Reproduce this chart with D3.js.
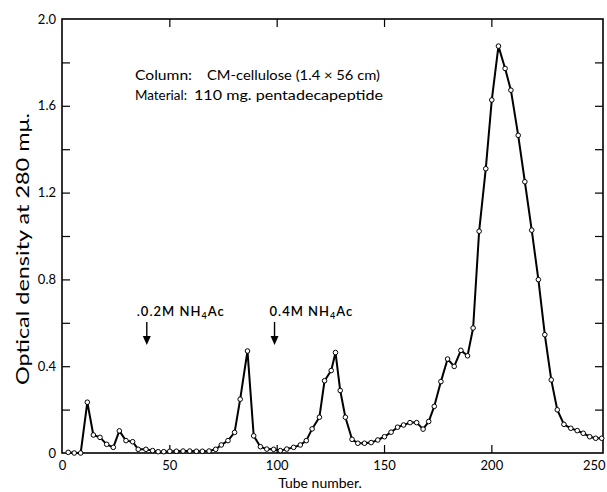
<!DOCTYPE html>
<html>
<head>
<meta charset="utf-8">
<script src="https://cdn.jsdelivr.net/npm/d3@7"></script>
<style>
    body { margin: 0; background: #fff; }
    svg { display: block; font-family: Lato, "DejaVu Sans", sans-serif; }
</style>
</head>
<body>
<svg id="chart" width="607" height="492"></svg>
<script>
// tube number / optical density
const tubes = [
    2.9, 5.7, 8.7, 11.8, 14.6, 17.7, 20.8, 23.9, 26.7, 29.8,
    32.9, 35.5, 39.1, 42.2, 44.8, 47.4, 50.2, 53.3, 56.4, 59.5,
    62.6, 65.4, 68.5, 71.6, 74.2, 77.3, 80.4, 83.0, 86.4, 89.3,
    92.4, 95.4, 98.6, 101.7, 104.7, 107.9, 111.0, 113.8, 116.5, 119.9,
    122.3, 125.4, 127.4, 129.6, 132.0, 135.1, 137.8, 140.9, 144.0, 147.1,
    150.2, 153.3, 156.3, 159.1, 162.1, 165.2, 168.2, 170.8, 173.4, 176.5,
    179.6, 182.7, 185.8, 188.9, 191.5, 194.3, 197.4, 200.2, 203.3, 206.4,
    209.1, 212.5, 215.6, 218.8, 221.9, 224.9, 227.9, 230.7, 233.8, 237.0,
    240.0, 242.8, 245.8, 248.6, 251.4
];
const density = [
    0.003, 0.0, 0.0, 0.234, 0.083, 0.072, 0.040, 0.026, 0.102, 0.057,
    0.052, 0.017, 0.017, 0.011, 0.006, 0.006, 0.008, 0.008, 0.009, 0.009,
    0.008, 0.008, 0.009, 0.017, 0.037, 0.057, 0.095, 0.248, 0.470, 0.079,
    0.029, 0.018, 0.017, 0.011, 0.018, 0.026, 0.037, 0.057, 0.111, 0.165,
    0.333, 0.380, 0.463, 0.288, 0.165, 0.063, 0.045, 0.045, 0.048, 0.060,
    0.075, 0.096, 0.119, 0.129, 0.140, 0.140, 0.110, 0.145, 0.215, 0.329,
    0.433, 0.399, 0.473, 0.448, 0.576, 1.022, 1.310, 1.627, 1.875, 1.772,
    1.672, 1.464, 1.250, 1.027, 0.799, 0.545, 0.337, 0.199, 0.132, 0.114,
    0.103, 0.091, 0.075, 0.068, 0.068
];

const yMinorTicks = [0.2, 0.4, 0.6, 0.8, 1.0, 1.2, 1.4, 1.6, 1.8];
const yLabelValues = [0, 0.4, 0.8, 1.2, 1.6, 2.0];
const yLabelText = ["0", "0.4", "0.8", "1.2", "1.6", "2.0"];
const xLabelValues = [0, 50, 100, 150, 200, 250];
const xInnerTicks = [50, 100, 150, 200];

const bufferTubes = [39.5, 99];
const bufferLabels = [".0.2M NH", "0.4M NH"];

const infoKeys = ["Column:", "Material:"];
const infoValues = ["CM-cellulose (1.4 × 56 cm)", "110 mg. pentadecapeptide"];

const margin = { top: 19, right: 4, bottom: 39, left: 62 };
const width = 607, height = 492;

const svg = d3.select("#chart");

const x = d3.scaleLinear().domain([0, 252]).range([margin.left, width - margin.right]);
const y = d3.scaleLinear().domain([0, 2]).range([height - margin.bottom, margin.top]);

const data = tubes.map((t, i) => ({ t, v: density[i] }));

// inner ticks on all four sides
svg.append("g")
    .attr("transform", `translate(${x.range()[0]},0)`)
    .call(d3.axisLeft(y).tickValues(yMinorTicks).tickSize(-8).tickFormat(""))
    .call(g => g.select(".domain").remove());

svg.append("g")
    .attr("transform", `translate(${x.range()[1]},0)`)
    .call(d3.axisRight(y).tickValues(yMinorTicks).tickSize(-8).tickFormat(""))
    .call(g => g.select(".domain").remove());

svg.append("g")
    .attr("transform", `translate(0,${y.range()[1]})`)
    .call(d3.axisTop(x).tickValues(xInnerTicks).tickSize(-8).tickFormat(""))
    .call(g => g.select(".domain").remove());

svg.append("g")
    .attr("transform", `translate(0,${y.range()[0]})`)
    .call(d3.axisBottom(x).tickValues(xInnerTicks).tickSize(-8).tickFormat(""))
    .call(g => g.select(".domain").remove());

svg.selectAll(".tick line").attr("stroke", "#000").attr("stroke-width", 1.2);

// tick labels
svg.append("g")
    .attr("transform", `translate(${x.range()[0]},0)`)
    .call(d3.axisLeft(y).tickValues(yLabelValues).tickSize(0).tickPadding(6)
        .tickFormat((d, i) => yLabelText[i]))
    .call(g => g.select(".domain").remove())
    .call(g => g.selectAll("text").attr("font-size", 13).attr("fill", "#000")
        .attr("font-family", "Lato, sans-serif"));

svg.append("g")
    .attr("transform", `translate(0,${y.range()[0]})`)
    .call(d3.axisBottom(x).tickValues(xLabelValues).tickSize(0).tickPadding(8)
        .tickFormat(d3.format("d")))
    .call(g => g.select(".domain").remove())
    .call(g => g.selectAll("text").attr("font-size", 13).attr("fill", "#000")
        .attr("font-family", "Lato, sans-serif")
        .attr("dx", d => d === 250 ? -5 : 0));

// frame
svg.append("rect")
    .attr("x", x.range()[0])
    .attr("y", y.range()[1])
    .attr("width", x.range()[1] - x.range()[0])
    .attr("height", y.range()[0] - y.range()[1])
    .attr("fill", "none")
    .attr("stroke", "#000")
    .attr("stroke-width", 1.6);

// profile
const line = d3.line().x(d => x(d.t)).y(d => y(d.v));

svg.append("path")
    .datum(data)
    .attr("d", line)
    .attr("fill", "none")
    .attr("stroke", "#000")
    .attr("stroke-width", 2)
    .attr("stroke-linejoin", "round");

svg.append("g")
    .selectAll("circle")
    .data(data)
    .join("circle")
    .attr("cx", d => x(d.t))
    .attr("cy", d => y(d.v))
    .attr("r", 2.3)
    .attr("fill", "#fff")
    .attr("stroke", "#000")
    .attr("stroke-width", 1);

// buffer change arrows
const arrows = svg.append("g");
bufferTubes.forEach((t, i) => {
    const ax = x(t);
    arrows.append("line")
        .attr("x1", ax).attr("x2", ax)
        .attr("y1", 322).attr("y2", 337)
        .attr("stroke", "#000").attr("stroke-width", 1.4);
    arrows.append("path")
        .attr("d", `M${ax - 4},336 L${ax + 4},336 L${ax},345 Z`)
        .attr("fill", "#000");
    const txt = arrows.append("text")
        .attr("x", ax - (i === 0 ? 10 : 5))
        .attr("y", 316)
        .attr("font-size", 13)
        .attr("letter-spacing", 1)
        .attr("font-weight", 600)
        .attr("fill", "#000");
    txt.append("tspan").text(bufferLabels[i]);
    txt.append("tspan").attr("dy", 3).attr("font-size", 9).text("4");
    txt.append("tspan").attr("dy", -3).text("Ac");
});

// column / material note
const keyLen = [57, 52];
const valX = [207, 194];
const valLen = [173, 189];
const info = svg.append("g").attr("font-size", 13.5).attr("fill", "#000");
infoKeys.forEach((k, i) => {
    info.append("text").attr("x", 135).attr("y", 80 + i * 20)
        .attr("textLength", keyLen[i]).attr("lengthAdjust", "spacingAndGlyphs").text(k);
    info.append("text").attr("x", valX[i]).attr("y", 80 + i * 20)
        .attr("textLength", valLen[i]).attr("lengthAdjust", "spacingAndGlyphs").text(infoValues[i]);
});

// axis titles
svg.append("text")
    .attr("x", 320)
    .attr("y", 488)
    .attr("text-anchor", "middle")
    .attr("font-size", 14)
    .attr("fill", "#000")
    .text("Tube number.");

svg.append("text")
    .attr("transform", "translate(29,249) rotate(-90)")
    .attr("text-anchor", "middle")
    .attr("font-size", 17)
    .attr("textLength", 272)
    .attr("lengthAdjust", "spacingAndGlyphs")
    .attr("fill", "#000")
    .text("Optical density at 280 mμ.");
</script>
</body>
</html>
